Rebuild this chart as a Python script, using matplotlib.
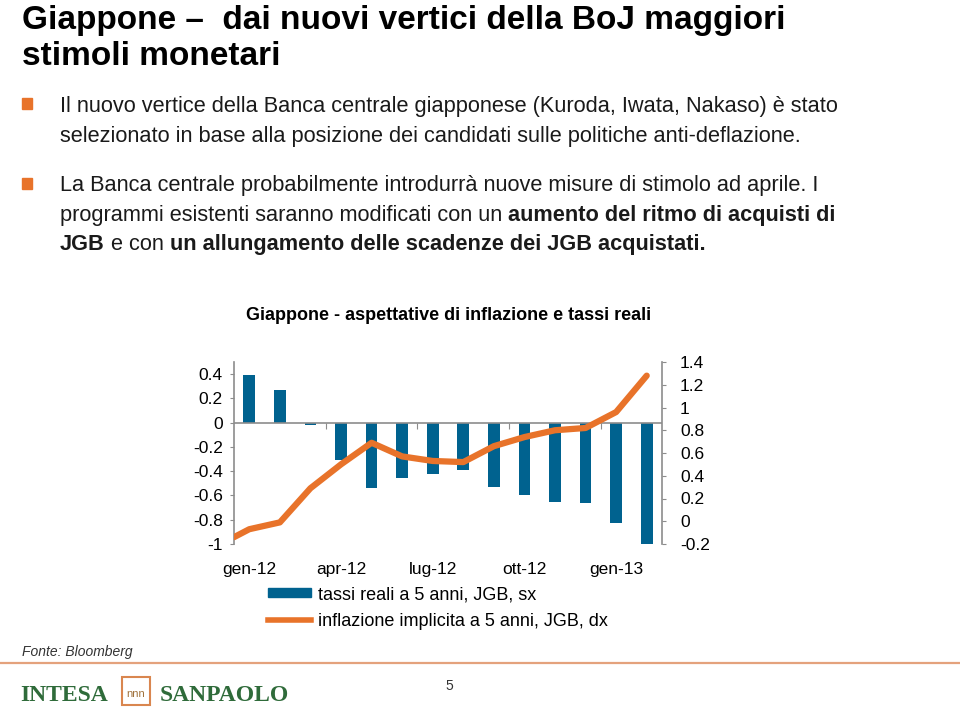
import matplotlib
matplotlib.use("Agg")
import matplotlib.pyplot as plt
from matplotlib.patches import Rectangle
from matplotlib.lines import Line2D
from matplotlib.patches import Patch

# ---- data ----
months = ["gen-12", "feb-12", "mar-12", "apr-12", "mag-12", "giu-12", "lug-12",
          "ago-12", "set-12", "ott-12", "nov-12", "dic-12", "gen-13", "feb-13"]
real_rates = [0.39, 0.27, -0.02, -0.31, -0.54, -0.46, -0.42, -0.39, -0.53,
              -0.60, -0.65, -0.66, -0.83, -1.00]
# breakeven inflation (first point = end of previous period)
infl_x = [-0.5, 0, 1, 2, 3, 4, 5, 6, 7, 8, 9, 10, 11, 12, 13]
infl = [-0.14, -0.07, -0.01, 0.29, 0.50, 0.69, 0.57, 0.53, 0.52, 0.66, 0.74,
        0.80, 0.82, 0.96, 1.28]
xtick_pos = [0, 3, 6, 9, 12]
xtick_labels = ["gen-12", "apr-12", "lug-12", "ott-12", "gen-13"]
left_ticks = [-1, -0.8, -0.6, -0.4, -0.2, 0, 0.2, 0.4]
left_labels = ["-1", "-0.8", "-0.6", "-0.4", "-0.2", "0", "0.2", "0.4"]
right_ticks = [-0.2, 0, 0.2, 0.4, 0.6, 0.8, 1, 1.2, 1.4]
right_labels = ["-0.2", "0", "0.2", "0.4", "0.6", "0.8", "1", "1.2", "1.4"]
sep_ticks = [2.5, 5.5, 8.5, 11.5]

W, H = 960, 710
BLUE = "#00628f"
ORANGE = "#e8732a"
GRAY = "#8c8c8c"
NARROW = ["Liberation Sans", "DejaVu Sans"]
SANS = ["Liberation Sans", "DejaVu Sans"]

fig = plt.figure(figsize=(W / 100, H / 100), dpi=100)
fig.patch.set_facecolor("white")

def fx(x):
    return x / W

def fy(y):
    return 1 - y / H

# ---- title ----
fig.text(fx(22), fy(29), "Giappone \u2013  dai nuovi vertici della BoJ maggiori",
         fontsize=24, fontweight="bold", family=NARROW, va="baseline")
fig.text(fx(22), fy(65), "stimoli monetari",
         fontsize=24, fontweight="bold", family=NARROW, va="baseline")

# ---- bullets ----
renderer = fig.canvas.get_renderer()

def width_of(s, weight, size):
    t = fig.text(0, 0, s, fontsize=size, fontweight=weight, family=NARROW)
    w = t.get_window_extent(renderer).width
    t.remove()
    return w

def rich(x, y, parts, size=15.7):
    for i, (s, w) in enumerate(parts):
        t = fig.text(fx(x), fy(y), s, fontsize=size, fontweight=w,
                     family=NARROW, va="baseline", color="#1a1a1a")
        bb = t.get_window_extent(renderer)
        sp = width_of("n n", w, size) - width_of("nn", w, size)
        x += bb.width + sp

body_lines = [
    (112, [("Il nuovo vertice della Banca centrale giapponese (Kuroda, Iwata, Nakaso) \u00e8 stato", "normal")]),
    (142, [("selezionato in base alla posizione dei candidati sulle politiche anti-deflazione.", "normal")]),
    (191, [("La Banca centrale probabilmente introdurr\u00e0 nuove misure di stimolo ad aprile. I", "normal")]),
    (221, [("programmi esistenti saranno modificati con un", "normal"),
           ("aumento del ritmo di acquisti di", "bold")]),
    (250, [("JGB", "bold"), ("e con", "normal"),
           ("un allungamento delle scadenze dei JGB acquistati.", "bold")]),
]
for y, parts in body_lines:
    rich(60, y, parts)
for y in (98, 178):
    fig.patches.append(Rectangle((fx(22), fy(y + 11)), 10 / W, 11 / H,
                                 transform=fig.transFigure, color=ORANGE))

# ---- chart ----
L, R, T, B = 234, 662, 362, 544
ax = fig.add_axes([fx(L), fy(B), (R - L) / W, (B - T) / H])
x = list(range(len(months)))
ax.bar(x, real_rates, width=0.38, color=BLUE, zorder=2)
ax.set_xlim(-0.5, 13.5)
ax.set_ylim(-1, 0.5)
ax.axhline(0, color=GRAY, lw=1.2, zorder=3)
ax.set_yticks(left_ticks)
ax.set_yticklabels(left_labels)
ax.set_xticks(xtick_pos)
ax.set_xticklabels(xtick_labels)
ax.tick_params(axis="x", length=0, pad=13, labelsize=12.5)
ax.tick_params(axis="y", length=3, color=GRAY, labelsize=12.5, pad=5)
for s in ("top", "right", "bottom"):
    ax.spines[s].set_visible(False)
ax.spines["left"].set_color(GRAY)
ax.spines["left"].set_linewidth(1.2)
for lab in ax.get_xticklabels() + ax.get_yticklabels():
    lab.set_family(SANS)
ax.set_facecolor("none")

# separators on zero line
zero_frac = (0 - (-1)) / 1.5
sec = ax.secondary_xaxis(zero_frac)
sec.set_xticks(sep_ticks)
sec.set_xticklabels([""] * len(sep_ticks))
sec.xaxis.set_ticks_position("bottom")
sec.tick_params(length=4, color=GRAY, direction="out")
for s in sec.spines.values():
    s.set_visible(False)

ax2 = ax.twinx()
ax2.plot(infl_x, infl, color=ORANGE, lw=4.5, solid_capstyle="round", zorder=4)
ax2.set_ylim(-0.2, 1.4)
ax2.set_yticks(right_ticks)
ax2.set_yticklabels(right_labels)
ax2.tick_params(axis="y", length=3, color=GRAY, labelsize=12.5, pad=10)
for s in ("top", "left", "bottom"):
    ax2.spines[s].set_visible(False)
ax2.spines["right"].set_color(GRAY)
ax2.spines["right"].set_linewidth(1.2)
for lab in ax2.get_yticklabels():
    lab.set_family(SANS)

fig.text(fx(449), fy(320), "Giappone - aspettative di inflazione e tassi reali",
         fontsize=13, fontweight="bold", family=SANS, ha="center", va="baseline")

handles = [Patch(color=BLUE), Line2D([], [], color=ORANGE, lw=4)]
fig.legend(handles, ["tassi reali a 5 anni, JGB, sx",
                     "inflazione implicita a 5 anni, JGB, dx"],
           loc="upper left", bbox_to_anchor=(fx(268), fy(586)), frameon=False,
           prop={"family": SANS, "size": 13}, handlelength=2.4,
           handleheight=0.45, handletextpad=0.35, labelspacing=0.55,
           borderpad=0, borderaxespad=0)

# ---- footer ----
fig.text(fx(22), fy(656), "Fonte: Bloomberg", fontsize=10, style="italic",
         family=SANS, color="#333333", va="baseline")
fig.add_artist(Line2D([0, 1], [fy(663), fy(663)], transform=fig.transFigure,
                      color="#e4a27c", lw=1.6))
GREEN = "#2f6b3a"
fig.text(fx(20), fy(701), "INTESA", fontsize=17, fontweight="bold",
         family=["Liberation Serif"], color=GREEN, va="baseline")
fig.patches.append(Rectangle((fx(122), fy(705)), 28 / W, 28 / H,
                             transform=fig.transFigure, fill=False,
                             edgecolor="#d9864f", lw=1.5))
fig.text(fx(136), fy(697), "nnn", fontsize=8, family=SANS, color="#a0723c",
         ha="center", va="baseline")
fig.text(fx(160), fy(701), "SANPAOLO", fontsize=17, fontweight="bold",
         family=["Liberation Serif"], color=GREEN, va="baseline")
fig.text(fx(449), fy(690), "5", fontsize=10, family=SANS, color="#333333",
         ha="center", va="baseline")

fig.savefig("out.png", dpi=100)
